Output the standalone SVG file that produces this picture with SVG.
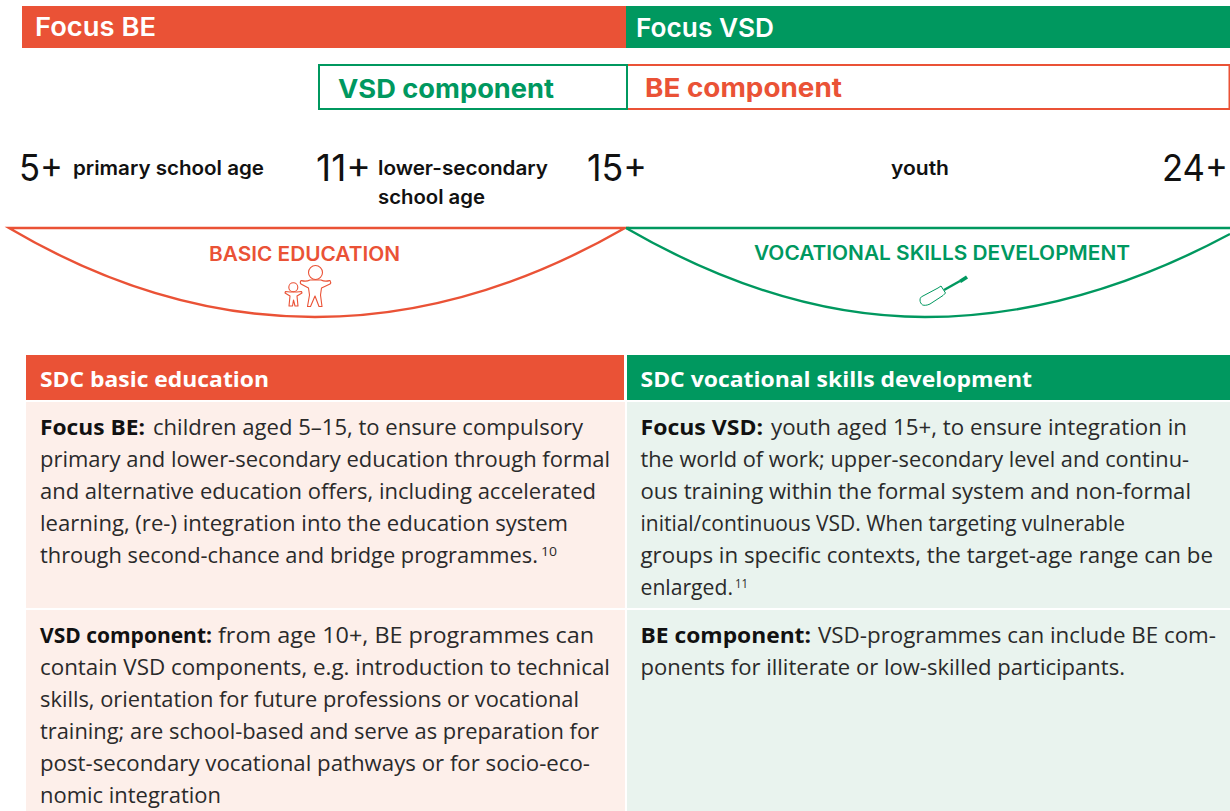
<svg xmlns="http://www.w3.org/2000/svg" width="1230" height="811" viewBox="0 0 1230 811">
<style>
text{font-family:"Open Sans","Noto Sans",sans-serif}
.h,.c,.n,.a,.k{font-family:"Inter","Lato",sans-serif}
.h{font-size:26px;font-weight:600;fill:#fff}
.c{font-size:26px;font-weight:700}
.n{font-size:37px;font-weight:400;fill:#111}
.a{font-size:19.500px;font-weight:600;fill:#111}
.k{font-size:19.500px;font-weight:600}
.t{font-size:21.500px;font-weight:700;fill:#fff}
.b{font-size:22px;fill:#2a2a2a}
.s{font-weight:700;fill:#111}
.u{font-size:12px;fill:#2a2a2a}
.r{fill:#ea5236}.g{fill:#00985f}
.sr{stroke:#ea5236}.sg{stroke:#00985f}
</style>
<g id="focus-be"><rect class="r" x="22" y="6" width="604" height="42"/><text class="h" x="35" y="36" textLength="121" lengthAdjust="spacingAndGlyphs">Focus BE</text></g>
<g id="focus-vsd"><rect class="g" x="626" y="6" width="604" height="42"/><text class="h" x="636" y="37" textLength="138" lengthAdjust="spacingAndGlyphs">Focus VSD</text></g>
<g id="vsd-component"><rect x="319" y="65" width="308" height="44" fill="#fff" class="sg" stroke-width="2"/><text class="c g" x="338" y="98" textLength="216" lengthAdjust="spacingAndGlyphs">VSD component</text></g>
<g id="be-component"><path d="M628 65H1229.500V109H628" fill="none" class="sr" stroke-width="2"/><text class="c r" x="645" y="97" textLength="197" lengthAdjust="spacingAndGlyphs">BE component</text></g>
<g id="age-5"><text class="n" x="19" y="181" textLength="44" lengthAdjust="spacingAndGlyphs">5+</text><text class="a" x="73" y="175" textLength="191" lengthAdjust="spacingAndGlyphs">primary school age</text></g>
<g id="age-11"><text class="n" x="316" y="181" textLength="55" lengthAdjust="spacingAndGlyphs">11+</text><text class="a" x="378" y="175" textLength="170" lengthAdjust="spacingAndGlyphs">lower-secondary</text><text class="a" x="378" y="204" textLength="107" lengthAdjust="spacingAndGlyphs">school age</text></g>
<g id="age-15"><text class="n" x="587" y="181" textLength="60" lengthAdjust="spacingAndGlyphs">15+</text><text class="a" x="891" y="175" textLength="58" lengthAdjust="spacingAndGlyphs">youth</text></g>
<g id="age-24"><text class="n" x="1162" y="181" textLength="66" lengthAdjust="spacingAndGlyphs">24+</text></g>
<g id="basic-education" fill="none">
<path d="M9 228H625Q470 317 315 317Q160 317 9 228Z" class="sr" stroke-width="2.400"/>
<text class="k r" x="209" y="261" stroke="none" textLength="191" lengthAdjust="spacingAndGlyphs">BASIC EDUCATION</text>
<g class="sr" stroke-width="1.100" stroke-linejoin="round">
<circle cx="315.500" cy="272.500" r="7"/>
<path d="M310 280C306 282 303 281 301 280.500C300 282 300 283 301 284L308.500 288L309.500 295L307.500 306.500H310.500L315 296L319 306.500H322L320.500 295L321.500 288L330 284C331 283 331 282 330 280.500C328 281 325 282 321 280Z"/>
<circle cx="293.300" cy="287.300" r="4.500"/>
<path d="M290 292L285.500 291.500L285 293L290 296L289 306H292.500L293.500 300L295 306H298L297 296L302 293L301.500 291.500L297 292Z"/>
</g></g>
<g id="vocational-skills" fill="none">
<path d="M626 228Q780 317 925 317Q1075 317 1230 234" class="sg" stroke-width="2.400"/>
<path d="M626 228H1230" class="sg" stroke-width="2.400"/>
<text class="k g" x="754" y="260" stroke="none" textLength="376" lengthAdjust="spacingAndGlyphs">VOCATIONAL SKILLS DEVELOPMENT</text>
<path d="M920 300C920 298 921 297 922 296.500L938 288L941 286L945.500 293L943 295.500L930 304C927 305.500 924 305.500 922.700 305C921 304 920 302 920 300Z" class="sg" stroke-width="1"/>
<path d="M944 290L960 281" class="sg" stroke-width="2.500"/>
<path d="M959 280L966 275.500L968 278.500L961 283Z" class="g" stroke="none"/>
</g>
<g id="col-be">
<rect class="r" x="26" y="355" width="598" height="45"/>
<text class="t" x="40" y="387" textLength="229" lengthAdjust="spacingAndGlyphs">SDC basic education</text>
<rect x="26" y="402" width="599" height="206" fill="#fdefea"/>
<rect x="26" y="610" width="599" height="201" fill="#fdefea"/>
<text class="b s" x="40" y="435" textLength="105" lengthAdjust="spacingAndGlyphs">Focus BE:</text>
<text class="b" x="153" y="435" textLength="430" lengthAdjust="spacingAndGlyphs">children aged 5–15, to ensure compulsory</text>
<text class="b" x="40" y="467" textLength="570" lengthAdjust="spacingAndGlyphs">primary and lower-secondary education through formal</text>
<text class="b" x="40" y="499" textLength="556" lengthAdjust="spacingAndGlyphs">and alternative education offers, including accelerated</text>
<text class="b" x="40" y="531" textLength="528" lengthAdjust="spacingAndGlyphs">learning, (re-) integration into the education system</text>
<text class="b" x="40" y="563" textLength="498" lengthAdjust="spacingAndGlyphs">through second-chance and bridge programmes.</text>
<text class="u" x="541" y="556" textLength="16" lengthAdjust="spacingAndGlyphs">10</text>
<text class="b s" x="40" y="643" textLength="172" lengthAdjust="spacingAndGlyphs">VSD component:</text>
<text class="b" x="218" y="643" textLength="376" lengthAdjust="spacingAndGlyphs">from age 10+, BE programmes can</text>
<text class="b" x="40" y="675" textLength="570" lengthAdjust="spacingAndGlyphs">contain VSD components, e.g. introduction to technical</text>
<text class="b" x="40" y="707" textLength="539" lengthAdjust="spacingAndGlyphs">skills, orientation for future professions or vocational</text>
<text class="b" x="40" y="739" textLength="559" lengthAdjust="spacingAndGlyphs">training; are school-based and serve as preparation for</text>
<text class="b" x="40" y="771" textLength="550" lengthAdjust="spacingAndGlyphs">post-secondary vocational pathways or for socio-eco-</text>
<text class="b" x="40" y="803" textLength="181" lengthAdjust="spacingAndGlyphs">nomic integration</text>
</g>
<g id="col-vsd">
<rect class="g" x="627" y="355" width="603" height="45"/>
<text class="t" x="640.500" y="387" textLength="391.500" lengthAdjust="spacingAndGlyphs">SDC vocational skills development</text>
<rect x="627" y="402" width="603" height="206" fill="#e9f3ee"/>
<rect x="627" y="610" width="603" height="201" fill="#e9f3ee"/>
<text class="b s" x="640.500" y="435" textLength="122.500" lengthAdjust="spacingAndGlyphs">Focus VSD:</text>
<text class="b" x="771" y="435" textLength="416" lengthAdjust="spacingAndGlyphs">youth aged 15+, to ensure integration in</text>
<text class="b" x="640.500" y="467" textLength="548.500" lengthAdjust="spacingAndGlyphs">the world of work; upper-secondary level and continu-</text>
<text class="b" x="640.500" y="499" textLength="550.500" lengthAdjust="spacingAndGlyphs">ous training within the formal system and non-formal</text>
<text class="b" x="640.500" y="531" textLength="484.500" lengthAdjust="spacingAndGlyphs">initial/continuous VSD. When targeting vulnerable</text>
<text class="b" x="640.500" y="563" textLength="572.500" lengthAdjust="spacingAndGlyphs">groups in specific contexts, the target-age range can be</text>
<text class="b" x="640.500" y="595" textLength="92.500" lengthAdjust="spacingAndGlyphs">enlarged.</text>
<text class="u" x="735" y="588" textLength="13" lengthAdjust="spacingAndGlyphs">11</text>
<text class="b s" x="640.500" y="643" textLength="170.500" lengthAdjust="spacingAndGlyphs">BE component:</text>
<text class="b" x="818" y="643" textLength="398" lengthAdjust="spacingAndGlyphs">VSD-programmes can include BE com-</text>
<text class="b" x="640.500" y="675" textLength="484.500" lengthAdjust="spacingAndGlyphs">ponents for illiterate or low-skilled participants.</text>
</g>
</svg>
